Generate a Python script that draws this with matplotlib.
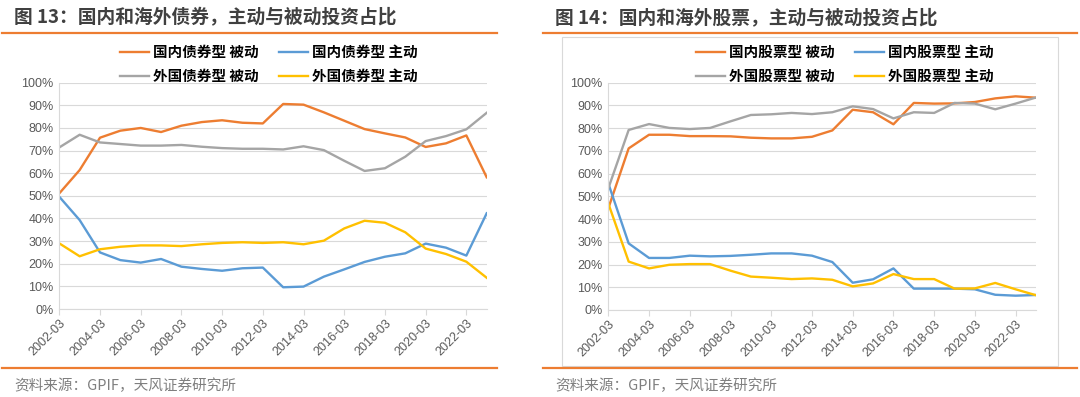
import matplotlib
matplotlib.use("Agg")
import matplotlib.pyplot as plt
from matplotlib.patches import Rectangle
from matplotlib.lines import Line2D
from matplotlib.ticker import PercentFormatter

plt.rcParams['font.family'] = ['Liberation Sans', 'Noto Sans CJK SC', 'DejaVu Sans']

# yearly points, 2002-03 .. 2023-03
years = [f"{y}-03" for y in range(2002, 2024)]
tick_labels = [f"{y}-03" for y in range(2002, 2023, 2)]

# Figure 13 - bonds (%)
bond_dom_passive = [51.1, 61.4, 75.7, 78.8, 80.0, 78.2, 81.0, 82.6, 83.4, 82.3, 82.0,
                    90.6, 90.3, 86.9, 83.2, 79.5, 77.6, 75.8, 71.6, 73.2, 76.7, 58.2]
bond_dom_active = [49.6, 39.3, 25.0, 21.6, 20.5, 22.1, 18.7, 17.7, 16.9, 18.0, 18.3,
                   9.6, 9.9, 14.3, 17.5, 20.8, 23.1, 24.6, 28.9, 27.1, 23.6, 42.3]
bond_for_passive = [71.4, 77.0, 73.6, 72.9, 72.2, 72.2, 72.5, 71.7, 71.1, 70.8, 70.8,
                    70.5, 71.9, 70.2, 65.5, 61.0, 62.2, 67.3, 74.2, 76.4, 79.4, 86.7]
bond_for_active = [29.0, 23.3, 26.4, 27.5, 28.1, 28.1, 27.8, 28.6, 29.2, 29.5, 29.2,
                   29.5, 28.6, 30.2, 35.6, 39.0, 38.1, 33.9, 26.7, 24.3, 20.9, 13.8]

# Figure 14 - equities (%)
eq_dom_passive = [44.7, 71.1, 77.1, 77.1, 76.5, 76.5, 76.4, 75.8, 75.5, 75.5, 76.2,
                  79.0, 88.1, 87.0, 81.7, 91.1, 90.8, 90.9, 91.5, 93.1, 94.0, 93.4]
eq_dom_active = [55.7, 29.3, 22.9, 22.9, 23.9, 23.6, 23.8, 24.3, 24.9, 24.9, 23.9,
                 21.1, 12.0, 13.5, 18.3, 9.4, 9.4, 9.4, 9.1, 6.7, 6.3, 6.6]
eq_for_passive = [53.5, 79.2, 81.8, 80.1, 79.6, 80.1, 83.0, 85.8, 86.1, 86.7, 86.2,
                  87.0, 89.6, 88.4, 84.3, 87.0, 86.7, 91.1, 90.8, 88.3, 90.8, 93.5]
eq_for_active = [46.9, 21.3, 18.3, 19.9, 20.2, 20.2, 17.3, 14.7, 14.2, 13.6, 13.9,
                 13.3, 10.4, 11.7, 15.8, 13.6, 13.6, 9.4, 9.5, 11.9, 9.1, 6.5]

ORANGE = '#ED7D31'
BLUE = '#5B9BD5'
GRAY = '#A5A5A5'
YELLOW = '#FFC000'
GRID = '#D9D9D9'
TXT = '#595959'

W, H = 1080, 397
fig = plt.figure(figsize=(W / 100, H / 100), dpi=100)


def fx(px):
    return px / W


def fy(py):
    return 1 - py / H


def draw_panel(rect, title, title_x, line_x0, line_x1, series, names, legend_x):
    ax = fig.add_axes(rect)
    x = list(range(len(years)))
    lines = []
    for vals, col in zip(series, [ORANGE, BLUE, GRAY, YELLOW]):
        ln, = ax.plot(x, [v / 100 for v in vals], color=col, lw=1.7, solid_joinstyle='round')
        lines.append(ln)
    ax.set_xlim(0, len(years) - 1)
    ax.set_ylim(0, 1)
    ax.set_yticks([i / 10 for i in range(11)])
    ax.yaxis.set_major_formatter(PercentFormatter(1.0, decimals=0))
    ax.set_xticks(list(range(0, 21, 2)))
    ax.set_xticklabels(tick_labels, rotation=45, ha='right', rotation_mode='anchor')
    ax.tick_params(axis='x', length=4, color=GRID, labelsize=9, labelcolor=TXT, pad=2)
    ax.tick_params(axis='y', length=0, labelsize=9, labelcolor=TXT, pad=4)
    ax.grid(axis='y', color=GRID, lw=0.8)
    ax.set_axisbelow(True)
    for s in ['top', 'right']:
        ax.spines[s].set_visible(False)
    for s in ['left', 'bottom']:
        ax.spines[s].set_color(GRID)
        ax.spines[s].set_linewidth(0.8)

    # legend: row 1 domestic, row 2 foreign
    order = [0, 2, 1, 3]
    fig.legend([lines[i] for i in order], [names[i] for i in order], ncol=2,
               loc='center left', bbox_to_anchor=(fx(legend_x), fy(64)),
               frameon=False, handlelength=2.0, handletextpad=0.25,
               columnspacing=1.4, labelspacing=0.55,
               prop={'family': 'Noto Sans CJK SC', 'weight': 'bold', 'size': 10.5})

    fig.text(fx(title_x), fy(18), title, fontsize=13.5, fontweight='bold',
             color='#404040', va='center', ha='left', family=['Noto Sans CJK SC'])
    fig.add_artist(Line2D([fx(line_x0), fx(line_x1)], [fy(33), fy(33)],
                          color=ORANGE, lw=1.6))
    fig.add_artist(Line2D([fx(line_x0), fx(line_x1)], [fy(368), fy(368)],
                          color=ORANGE, lw=1.6))
    fig.text(fx(title_x), fy(386), '资料来源：GPIF，天风证券研究所', fontsize=10.5,
             color='#7F7F7F', va='center', ha='left', family=['Noto Sans CJK SC'])
    return ax


draw_panel([fx(59.3), fy(309), fx(486.7 - 59.3), fy(82.7) - fy(309)],
           '图 13：国内和海外债券，主动与被动投资占比', 14, 2, 497,
           [bond_dom_passive, bond_dom_active, bond_for_passive, bond_for_active],
           ['国内债券型 被动', '国内债券型 主动', '外国债券型 被动', '外国债券型 主动'],
           107)

# chart frame of the right figure
fig.add_artist(Rectangle((fx(562), fy(366)), fx(1058 - 562), fy(37) - fy(366),
                         fill=False, edgecolor=GRID, lw=0.8))

draw_panel([fx(608.3), fy(310), fx(1036 - 608.3), fy(82.7) - fy(310)],
           '图 14：国内和海外股票，主动与被动投资占比', 555, 543, 1077,
           [eq_dom_passive, eq_dom_active, eq_for_passive, eq_for_active],
           ['国内股票型 被动', '国内股票型 主动', '外国股票型 被动', '外国股票型 主动'],
           683)

fig.savefig('out.png', dpi=100)
